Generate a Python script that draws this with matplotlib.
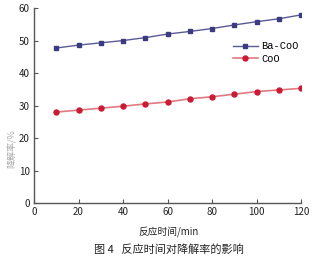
import matplotlib
matplotlib.use("Agg")
import matplotlib.pyplot as plt

plt.rcParams['font.family'] = ['Noto Sans CJK SC', 'DejaVu Sans']

time_min = [10, 20, 30, 40, 50, 60, 70, 80, 90, 100, 110, 120]
ba_coo = [47.7, 48.6, 49.3, 50.0, 50.9, 52.0, 52.8, 53.7, 54.8, 55.8, 56.7, 57.9]
coo = [28.0, 28.6, 29.2, 29.8, 30.5, 31.1, 32.1, 32.7, 33.5, 34.3, 34.8, 35.3]
x_ticks = [0, 20, 40, 60, 80, 100, 120]
y_ticks = [0, 10, 20, 30, 40, 50, 60]

fig = plt.figure(figsize=(3.12, 2.6), dpi=100)
ax = fig.add_axes([0.109, 0.219, 0.856, 0.75])

ax.plot(time_min, ba_coo, color='#5a5a96', lw=1.0, marker='s', ms=3.3,
        mfc='#3b3b80', mec='#3b3b80', label='Ba-CoO')
ax.plot(time_min, coo, color='#e07a80', lw=1.2, marker='o', ms=3.6,
        mfc='#cc1a35', mec='#cc1a35', label='CoO')

ax.set_xlim(0, 120)
ax.set_ylim(0, 60)
ax.set_xticks(x_ticks)
ax.set_yticks(y_ticks)
ax.tick_params(direction='in', length=3, width=0.8, labelsize=7,
               colors='#555555', labelcolor='#222222', pad=3)
for s in ['top', 'right']:
    ax.spines[s].set_visible(False)
for s in ['left', 'bottom']:
    ax.spines[s].set_color('#555555')
    ax.spines[s].set_linewidth(1.0)

leg = ax.legend(loc='upper left', bbox_to_anchor=(0.725, 0.857), frameon=False,
                handlelength=2.4, handletextpad=0.3,
                labelspacing=0.25, borderpad=0,
                prop={'family': ['Liberation Mono', 'DejaVu Sans Mono'], 'size': 7.5})

fig.text(0.038, 0.43, '降解率/%', rotation=90, fontsize=6.5, color='#aaaaaa',
         ha='center', va='center')
fig.text(0.54, 0.108, '反应时间/min', fontsize=7, color='#222222',
         ha='center', va='center')
fig.text(0.54, 0.04, '图 4   反应时间对降解率的影响', fontsize=8, color='#222222',
         ha='center', va='center')

fig.savefig('out.png', dpi=100)
